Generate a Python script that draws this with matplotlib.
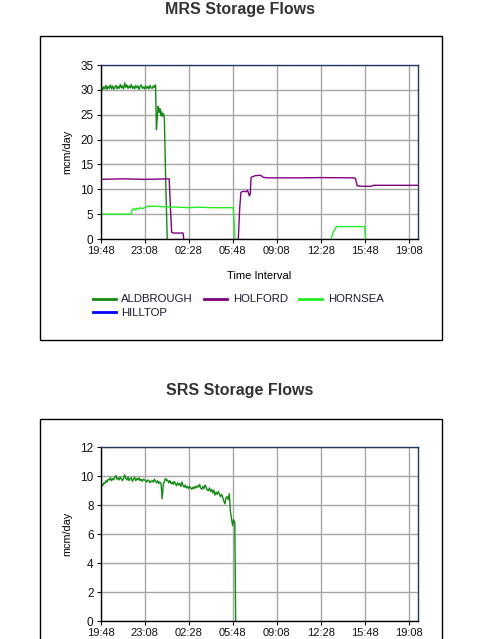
import numpy as np
import matplotlib
matplotlib.use("Agg")
import matplotlib.pyplot as plt
from matplotlib.lines import Line2D
from matplotlib.patches import Rectangle

plt.rcParams['font.family'] = ['Liberation Sans', 'DejaVu Sans']

# x axis: minutes since 19:48, ticks every 3h20m
tick_minutes = [0, 200, 400, 600, 800, 1000, 1200, 1400]
tick_labels = ["19:48", "23:08", "02:28", "05:48", "09:08", "12:28", "15:48", "19:08"]

# --- MRS: ALDBROUGH (5-minute samples until the trip, then the fall-off) ---
mrs_ald_vals = [30.1, 30.7, 30.0, 30.6, 30.2, 30.9, 30.1, 30.7, 30.3, 31.0,
                30.2, 30.8, 30.1, 30.6, 30.9, 30.2, 30.7, 30.3, 31.1, 30.4,
                30.8, 30.2, 31.4, 30.5, 31.0, 30.3, 30.8, 30.4, 31.1, 30.3,
                30.7, 30.2, 30.9, 30.4, 30.8, 30.1, 30.7, 31.0, 30.3, 30.6,
                30.2, 30.8, 30.3, 30.7, 30.2, 30.9, 30.4, 30.3, 30.8, 30.5,
                31.0]
mrs_ald_tail_t = [254, 258, 262, 266, 270, 274, 278, 282, 286, 290, 296, 303]
mrs_ald_tail_v = [22.0, 24.5, 26.7, 25.5, 26.2, 24.8, 25.6, 24.7, 25.2, 24.5, 12.0, 0.0]

# --- MRS: HOLFORD (nan = no flow shown) ---
mrs_hol_t = [0, 100, 200, 312, 318, 323, 330, 375, 378, 500,
             626, 632, 638, 648, 660, 668, 676, 680, 684, 700,
             715, 728, 740, 760, 900, 1000, 1150, 1158, 1166, 1190,
             1230, 1240, 1440]
mrs_hol_v = [12.0, 12.1, 12.0, 12.1, 6.0, 1.4, 1.2, 1.2, 0.0, np.nan,
             0.0, 6.0, 9.4, 9.6, 9.5, 9.8, 8.7, 9.0, 12.4, 12.7,
             12.8, 12.8, 12.4, 12.3, 12.3, 12.35, 12.3, 12.2, 10.7, 10.6,
             10.6, 10.8, 10.8]

# --- MRS: HORNSEA ---
mrs_horn_t = [0, 135, 140, 145, 155, 160, 165, 175, 180, 190,
              210, 220, 250, 280, 350, 400, 450, 500, 603, 608,
              611, 800, 1048, 1055, 1072, 1200, 1204]
mrs_horn_v = [5.0, 5.0, 5.1, 6.0, 6.1, 5.8, 6.2, 6.0, 6.3, 6.1,
              6.5, 6.6, 6.6, 6.5, 6.4, 6.3, 6.4, 6.3, 6.3, 3.0,
              0.0, np.nan, 0.0, 1.2, 2.5, 2.5, 0.0]

# --- MRS: HILLTOP (no flow in the period) ---
mrs_hill_t = []
mrs_hill_v = []

# --- SRS: ALDBROUGH (5-minute samples) ---
srs_ald_vals = [9.25, 9.45, 9.35, 9.55, 9.5, 9.7, 9.6, 9.8, 9.75, 9.9,
                9.7, 9.85, 9.75, 9.95, 10.05, 9.8, 9.9, 9.75, 9.95, 9.8,
                9.7, 9.9, 10.1, 9.85, 9.75, 9.95, 9.7, 9.85, 9.9, 9.65,
                9.8, 9.95, 9.7, 9.85, 9.75, 9.9, 9.7, 9.8, 9.65, 9.8,
                9.75, 9.7, 9.6, 9.75, 9.7, 9.55, 9.65, 9.7, 9.6, 9.8,
                9.65, 9.55, 9.7, 9.5, 9.6, 9.5, 8.45, 9.4, 9.65, 9.85,
                9.7, 9.75, 9.55, 9.7, 9.5, 9.6, 9.45, 9.65, 9.5, 9.35,
                9.55, 9.4, 9.5, 9.3, 9.6, 9.35, 9.25, 9.4, 9.2, 9.3,
                9.15, 9.3, 9.2, 9.1, 9.25, 9.15, 9.3, 9.2, 9.35, 9.25,
                9.45, 9.2, 9.1, 9.3, 9.15, 9.4, 9.25, 9.05, 9.0, 9.2,
                8.95, 9.1, 8.85, 9.05, 8.7, 8.9, 8.75, 8.95, 8.8, 8.6,
                8.75, 8.55, 8.3, 8.1, 8.5, 8.6, 8.4, 8.8, 7.6, 7.1,
                6.6, 7.0, 6.8]
srs_ald_end_t = [614]
srs_ald_end_v = [0.0]

col_ald = "#138a13"
col_hol = "#800080"
col_horn = "#22ee22"
col_hill = "#0000ff"


def style_axes(ax, ymax, ystep):
    ax.set_xlim(0, 1440)
    ax.set_ylim(0, ymax)
    ax.set_xticks(tick_minutes)
    ax.set_xticklabels(tick_labels)
    ax.set_yticks(np.arange(0, ymax + 0.1, ystep))
    ax.grid(True, color="#a6a6a6", linewidth=1.0)
    ax.set_axisbelow(True)
    ax.tick_params(labelsize=8, length=3, width=0.8, pad=2,
                   colors="#111111")
    ax.tick_params(axis="y", labelsize=8.5)
    ax.spines['left'].set_color("black")
    ax.spines['bottom'].set_color("black")
    ax.spines['top'].set_color("#1f3864")
    ax.spines['right'].set_color("#1f3864")
    for s in ax.spines.values():
        s.set_linewidth(1.0)
    ax.set_ylabel("mcm/day", fontsize=7.8, labelpad=6)


fig = plt.figure(figsize=(4.99, 6.39), dpi=100)
W, H = 499.0, 639.0

# framing boxes
fig.patches.append(Rectangle((39.5 / W, 1 - 339.5 / H), 402.5 / W, 303.5 / H,
                             transform=fig.transFigure, fill=False,
                             edgecolor="black", linewidth=1.0))
fig.patches.append(Rectangle((39.5 / W, -0.05), 402.5 / W, 1 - 418.5 / H + 0.05,
                             transform=fig.transFigure, fill=False,
                             edgecolor="black", linewidth=1.0))

fig.text(240 / W, 1 - 9.5 / H, "MRS Storage Flows", ha="center", va="center",
         fontsize=11.5, fontweight="bold", color="#333333")
fig.text(240 / W, 1 - 391 / H, "SRS Storage Flows", ha="center", va="center",
         fontsize=11.5, fontweight="bold", color="#333333")

# ---- MRS chart ----
ax1 = fig.add_axes([100.5 / W, 1 - 239 / H, 317 / W, 174 / H])
t_ald = np.arange(len(mrs_ald_vals)) * 5
ax1.plot(list(t_ald) + mrs_ald_tail_t, mrs_ald_vals + mrs_ald_tail_v,
         color=col_ald, lw=1.0)
ax1.plot(mrs_hol_t, mrs_hol_v, color=col_hol, lw=1.0)
ax1.plot(mrs_horn_t, mrs_horn_v, color=col_horn, lw=1.0)
ax1.plot(mrs_hill_t, mrs_hill_v, color=col_hill, lw=1.0)
style_axes(ax1, 35, 5)
ax1.set_xlabel("Time Interval", fontsize=8, labelpad=11)

handles = [Line2D([], [], color=col_ald, lw=2),
           Line2D([], [], color=col_hill, lw=2),
           Line2D([], [], color=col_hol, lw=2),
           Line2D([], [], color=col_horn, lw=2)]
labels = ["ALDBROUGH", "HILLTOP", "HOLFORD", "HORNSEA"]
fig.legend(handles, labels, loc="upper left",
           bbox_to_anchor=(93 / W, 1 - 294.5 / H), ncol=3, frameon=False,
           fontsize=8.2, handlelength=2.0, handletextpad=0.5,
           columnspacing=1.0, labelspacing=0.3, borderpad=0,
           borderaxespad=0, labelcolor="#1a1a33")

# ---- SRS chart ----
ax2 = fig.add_axes([100.5 / W, 1 - 621.3 / H, 317 / W, 174 / H])
t_srs = np.arange(len(srs_ald_vals)) * 5
ax2.plot(list(t_srs) + srs_ald_end_t, srs_ald_vals + srs_ald_end_v,
         color=col_ald, lw=1.0)
style_axes(ax2, 12, 2)

fig.savefig("out.png", dpi=100)
